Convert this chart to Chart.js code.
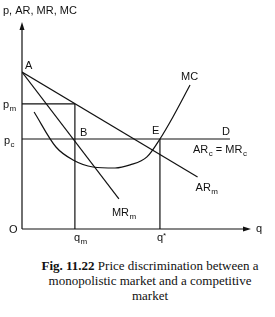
<!DOCTYPE html>
<html>
<head>
<meta charset="utf-8">
<script src="https://cdn.jsdelivr.net/npm/chart.js@4"></script>
<style>
  html,body{margin:0;padding:0;background:#fff;}
  body{width:275px;height:317px;position:relative;overflow:hidden;}
  #diagram{position:absolute;left:0;top:0;}
  #caption{position:absolute;left:0;top:258px;width:275px;padding-left:25px;box-sizing:border-box;
    text-align:center;font-family:"Liberation Serif","Times New Roman",serif;font-size:13px;line-height:15px;color:#111;white-space:nowrap;}
  #caption b{font-weight:bold;}
</style>
</head>
<body>
<canvas id="diagram" width="275" height="255"></canvas>
<div id="caption"><b>Fig. 11.22</b> Price discrimination between a<br>monopolistic market and a competitive<br>market</div>
<script>
// diagram values, in axis units (q: 0..10, p: 0..10)
const priceA = 7.62;
const priceTicks = ["m", "c"];          // p_m, p_c
const priceValues = [6.07, 4.37];
const quantityTicks = ["m", "*"];       // q_m, q*
const quantityValues = [2.32, 6.05];
const arEnd = [7.7, 2.52];              // AR_m ends here
const mrEnd = [4.25, 1.46];             // MR_m ends here
const dEnd = 9.12;                      // D, end of AR_c = MR_c
const mcQ = [0.53, 1.49, 2.24, 3.11, 4.08, 4.74, 5.48, 6.05, 6.62, 7.37];
const mcP = [5.68, 3.98, 3.35, 3.01, 2.96, 3.11, 3.50, 4.37, 5.44, 6.99];

const pm = priceValues[0], pc = priceValues[1];
const qm = quantityValues[0], qs = quantityValues[1];

function seg(pts){return {data:pts.map(p=>({x:p[0],y:p[1]})),borderColor:"#111",borderWidth:1.2,
  pointRadius:0,fill:false,tension:0};}

const datasets = [
  seg([[0,priceA],arEnd]),
  seg([[0,priceA],mrEnd]),
  seg([[0,pc],[dEnd,pc]]),
  seg([[0,pm],[qm,pm]]),
  seg([[qm,0],[qm,pm]]),
  seg([[qs,0],[qs,pc]]),
  Object.assign(seg(mcQ.map((q,i)=>[q,mcP[i]])),{cubicInterpolationMode:"monotone"})
];

const SANS = '"Liberation Sans",Arial,sans-serif';
function txt(ctx,s,x,y,size){ctx.font=size+"px "+SANS;ctx.fillText(s,x,y);return ctx.measureText(s).width;}
function sub(ctx,main,s,x,y,rest){
  let w = txt(ctx,main,x,y,11);
  w += txt(ctx,s,x+w+0.5,y+3,8)+0.5;
  if(rest){w += txt(ctx,rest,x+w,y,11);}
  return w;
}

const labels = {
  id:"labels",
  afterDatasetsDraw(chart){
    const ctx = chart.ctx, xs = chart.scales.x, ys = chart.scales.y;
    const X = v=>xs.getPixelForValue(v), Y = v=>ys.getPixelForValue(v);
    const x0 = X(0), y0 = Y(0);
    ctx.save();
    ctx.strokeStyle="#111"; ctx.fillStyle="#111"; ctx.lineWidth=1.2;
    // axes with arrows
    ctx.beginPath();
    ctx.moveTo(x0,y0); ctx.lineTo(x0,Y(10)+4);
    ctx.moveTo(x0,y0); ctx.lineTo(X(10)-4,y0);
    ctx.stroke();
    ctx.beginPath();
    ctx.moveTo(x0,Y(10)-1); ctx.lineTo(x0-2.5,Y(10)+7); ctx.lineTo(x0+2.5,Y(10)+7); ctx.closePath();
    ctx.moveTo(X(10)+1,y0); ctx.lineTo(X(10)-7,y0-2.5); ctx.lineTo(X(10)-7,y0+2.5); ctx.closePath();
    ctx.fill();
    // text
    ctx.textBaseline="alphabetic";
    txt(ctx,"p, AR, MR, MC",3,14,11);
    txt(ctx,"A",x0+3,Y(priceA)-3,11);
    sub(ctx,"p",priceTicks[0],3,Y(pm)+4);
    sub(ctx,"p",priceTicks[1],4,Y(pc)+5);
    txt(ctx,"B",X(qm)+5,Y(pc)-3,11);
    txt(ctx,"E",X(qs)-8,Y(pc)-5,11);
    txt(ctx,"D",X(dEnd)-8,Y(pc)-4,11);
    let w = sub(ctx,"AR","c",193,Y(pc)+14," = ");
    sub(ctx,"MR","c",193+w,Y(pc)+14);
    txt(ctx,"MC",X(mcQ[mcQ.length-1])-9,Y(mcP[mcP.length-1])-5,11);
    sub(ctx,"AR","m",X(arEnd[0])-2,Y(arEnd[1])+14);
    sub(ctx,"MR","m",X(mrEnd[0])-7,Y(mrEnd[1])+17);
    txt(ctx,"O",x0-13,y0+4,11);
    sub(ctx,"q",quantityTicks[0],X(qm)-1,y0+12);
    txt(ctx,"q",X(qs)-3,y0+12,11);
    txt(ctx,"*",X(qs)+3,y0+9,8);
    txt(ctx,"q",X(10)+6,y0+3,11);
    ctx.restore();
  }
};

new Chart(document.getElementById("diagram"),{
  type:"line",
  data:{datasets},
  options:{
    responsive:false,animation:false,devicePixelRatio:1,
    layout:{padding:{left:22,top:23,right:25,bottom:26}},
    plugins:{legend:{display:false},tooltip:{enabled:false}},
    scales:{
      x:{type:"linear",min:0,max:10,display:false},
      y:{type:"linear",min:0,max:10,display:false}
    }
  },
  plugins:[labels]
});
</script>
</body>
</html>
